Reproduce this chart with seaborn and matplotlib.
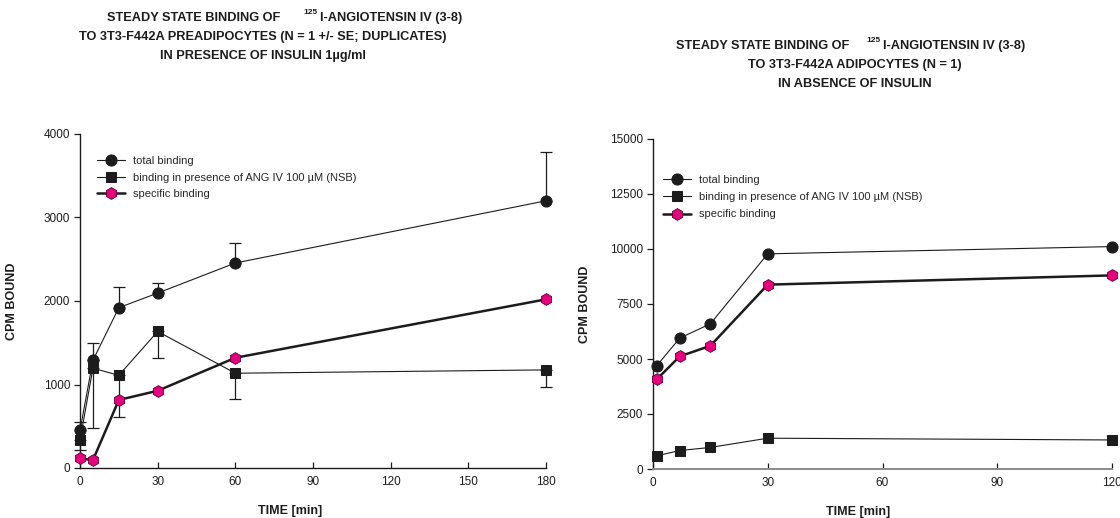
import numpy as np
import pandas as pd
import matplotlib
matplotlib.use("Agg")
import matplotlib.pyplot as plt
import seaborn as sns

# Preadipocytes (with insulin), mean +/- SE of duplicates
pre_time = [0, 5, 15, 30, 60, 180]
pre_total = [450, 1290, 1920, 2095, 2455, 3200]
pre_total_err = [100, 210, 245, 125, 240, 590]
pre_nsb = [335, 1195, 1110, 1635, 1135, 1175]
pre_nsb_err = [120, 720, 500, 315, 310, 200]
pre_specific = [115, 95, 815, 925, 1320, 2020]

# Adipocytes (without insulin), single experiment
adi_time = [1, 7, 15, 30, 120]
adi_total = [4700, 5950, 6600, 9780, 10110]
adi_nsb = [600, 840, 980, 1400, 1320]
adi_specific = [4080, 5120, 5600, 8380, 8800]

series_labels = ["total binding",
                 "binding in presence of ANG IV 100 \u00b5M (NSB)",
                 "specific binding"]

sns.set_theme(style="white")
plt.rcParams["font.family"] = ["Liberation Sans", "DejaVu Sans"]

PINK = "#e6007e"
DARK = "#1c1c1c"

fig = plt.figure(figsize=(11.2, 5.18), dpi=100)
W, H = 1120, 518


def px_axes(l, r, t, b):
    return fig.add_axes([l / W, 1 - b / H, (r - l) / W, (b - t) / H])


ax1 = px_axes(80, 546, 134, 468)
ax2 = px_axes(653, 1112, 139, 469)


def draw_panel(ax, t, total, nsb, spec, total_err=None, nsb_err=None):
    df = pd.DataFrame({"t": t, "total": total, "nsb": nsb, "spec": spec})
    if total_err is not None:
        z = np.zeros(len(t))
        for y, err in ((total, [z, total_err]), (nsb, [nsb_err, z])):
            eb = ax.errorbar(t, y, yerr=err, fmt="none", ecolor=DARK,
                             elinewidth=0.9, capsize=4, capthick=0.9, zorder=2)
            for art in eb.lines[1] + eb.lines[2]:
                art.set_clip_on(False)
    sns.lineplot(data=df, x="t", y="total", ax=ax, color=DARK, lw=0.8,
                 marker="o", markersize=8, markerfacecolor=DARK,
                 markeredgecolor=DARK, label=series_labels[0], zorder=4,
                 clip_on=False)
    sns.lineplot(data=df, x="t", y="nsb", ax=ax, color=DARK, lw=0.8,
                 marker="s", markersize=7.5, markerfacecolor=DARK,
                 markeredgecolor=DARK, label=series_labels[1], zorder=4,
                 clip_on=False)
    sns.lineplot(data=df, x="t", y="spec", ax=ax, color=DARK, lw=1.8,
                 marker="h", markersize=8.5, markerfacecolor=PINK,
                 markeredgecolor="#5a0030", markeredgewidth=0.6,
                 label=series_labels[2], zorder=5, clip_on=False)
    for s in ["top", "right"]:
        ax.spines[s].set_visible(False)
    for s in ["left", "bottom"]:
        ax.spines[s].set_color(DARK)
        ax.spines[s].set_linewidth(1.0)
    ax.tick_params(axis="y", direction="out", length=4, width=0.9,
                   labelsize=8.5, pad=3, left=True, colors=DARK)
    ax.tick_params(axis="x", direction="in", length=4, width=0.9,
                   labelsize=8.5, pad=6, bottom=True, colors=DARK)
    ax.set_ylabel("CPM BOUND", fontsize=9, fontweight="bold", color=DARK)
    ax.set_xlabel("TIME [min]", fontsize=9, fontweight="bold", color=DARK)
    ax.grid(False)


draw_panel(ax1, pre_time, pre_total, pre_nsb, pre_specific,
           pre_total_err, pre_nsb_err)
ax1.set_xlim(0, 180)
ax1.set_ylim(0, 4000)
ax1.set_xticks([0, 30, 60, 90, 120, 150, 180])
ax1.set_yticks([0, 1000, 2000, 3000, 4000])
ax1.yaxis.set_label_coords(-62 / 466, 0.5)
ax1.xaxis.set_label_coords((290 - 80) / 466, -37 / 334)
ax1.legend(loc="upper left", bbox_to_anchor=(17 / 466, 1 - 22 / 334),
           frameon=False, fontsize=8, handlelength=2.5, handletextpad=0.7,
           labelspacing=0.6, borderaxespad=0, borderpad=0)

draw_panel(ax2, adi_time, adi_total, adi_nsb, adi_specific)
ax2.set_xlim(0, 120)
ax2.set_ylim(0, 15000)
ax2.set_xticks([0, 30, 60, 90, 120])
ax2.set_yticks([0, 2500, 5000, 7500, 10000, 12500, 15000])
ax2.spines["bottom"].set_color("#8a8a8a")
ax2.spines["bottom"].set_linewidth(1.4)
ax2.yaxis.set_label_coords(-62 / 459, 0.5)
ax2.xaxis.set_label_coords((858 - 653) / 459, -37 / 330)
ax2.legend(loc="upper left", bbox_to_anchor=(10 / 459, 1 - 36 / 330),
           frameon=False, fontsize=8, handlelength=2.5, handletextpad=0.7,
           labelspacing=0.65, borderaxespad=0, borderpad=0)

# Panel titles with the radiolabel superscript
tkw = dict(fontsize=9.2, fontweight="bold", color=DARK)


def title_block(x_of_end, y1, sup_x, rest_x, lines2, xc):
    fig.text(x_of_end / W, 1 - y1 / H, "STEADY STATE BINDING OF",
             ha="right", va="center", **tkw)
    fig.text(sup_x / W, 1 - (y1 - 5) / H, "125", ha="left", va="center",
             fontsize=6, fontweight="bold", color=DARK)
    fig.text(rest_x / W, 1 - y1 / H, "I-ANGIOTENSIN IV (3-8)",
             ha="left", va="center", **tkw)
    for i, line in enumerate(lines2):
        fig.text(xc / W, 1 - (y1 + 19 * (i + 1)) / H, line,
                 ha="center", va="center", **tkw)


title_block(280, 18, 303, 320,
            ["TO 3T3-F442A PREADIPOCYTES (N = 1 +/- SE; DUPLICATES)",
             "IN PRESENCE OF INSULIN 1\u00b5g/ml"], 263)
title_block(849, 46, 866, 883,
            ["TO 3T3-F442A ADIPOCYTES (N = 1)",
             "IN ABSENCE OF INSULIN"], 855)

fig.savefig("out.png", dpi=100)
